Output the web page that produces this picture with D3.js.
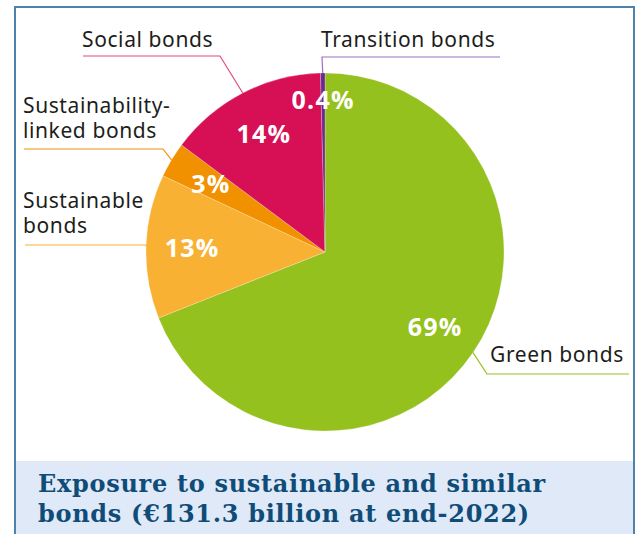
<!DOCTYPE html>
<html>
<head>
<meta charset="utf-8">
<script src="https://cdn.jsdelivr.net/npm/d3@7"></script>
<style>
  body { margin: 0; background: #fff; }
  svg { display: block; }
</style>
</head>
<body>
<svg id="chart" width="640" height="534"></svg>
<script>
// bond types, clockwise from 12 o'clock
const categories = ["Green bonds", "Sustainable bonds", "Sustainability-linked bonds", "Social bonds", "Transition bonds"];
const shares = [69.0, 13.0, 3.2, 14.4, 0.4];
const sliceColors = ["#95c11f", "#f8b133", "#f29100", "#d70f55", "#6a2a8f"];
const leaderColors = ["#95c11f", "#f8b133", "#f29100", "#e4487f", "#a46bc2"];
const titleLines = ["Exposure to sustainable and similar", "bonds (\u20ac131.3 billion at end-2022)"];

const svg = d3.select("svg#chart");
const cx = 325, cy = 252, radius = 179;

// frame + title band
svg.append("rect")
  .attr("x", 15).attr("y", 7)
  .attr("width", 619).attr("height", 540)
  .attr("fill", "none")
  .attr("stroke", "#4f82aa")
  .attr("stroke-width", 2);

svg.append("rect")
  .attr("x", 16).attr("y", 461)
  .attr("width", 617).attr("height", 80)
  .attr("fill", "#dfe9f7");

svg.selectAll("text.title")
  .data(titleLines)
  .enter()
  .append("text")
  .attr("class", "title")
  .attr("x", 38)
  .attr("y", (d, i) => 492 + i * 30)
  .attr("fill", "#0f4c78")
  .attr("font-family", "DejaVu Serif")
  .attr("font-weight", "bold")
  .attr("font-size", 24)
  .attr("letter-spacing", 0.7)
  .text((d) => d);

const pie = d3.pie().sort(null).value((d) => d)(shares);
const arc = d3.arc().innerRadius(0).outerRadius(radius);

const g = svg.append("g").attr("transform", `translate(${cx},${cy})`);

g.selectAll("path")
  .data(pie)
  .enter()
  .append("path")
  .attr("d", arc)
  .attr("fill", (d, i) => sliceColors[i])
  .attr("stroke", "#ffffff")
  .attr("stroke-width", 0.4)
  .attr("stroke-opacity", 0.6);

// percent labels
function fmt(v) {
  return v < 1 ? v.toFixed(1) + "%" : Math.round(v) + "%";
}
g.selectAll("text.pct")
  .data(pie)
  .enter()
  .append("text")
  .attr("class", "pct")
  .attr("transform", function (d) {
    const a = (d.startAngle + d.endAngle) / 2;
    const r = d.value < 1 ? 152 : 133;
    return `translate(${r * Math.sin(a)},${-r * Math.cos(a)})`;
  })
  .attr("text-anchor", "middle")
  .attr("dy", "0.36em")
  .attr("fill", "#fff")
  .attr("font-family", "Open Sans")
  .attr("font-weight", "bold")
  .attr("font-size", 25)
  .attr("letter-spacing", 1.2)
  .text((d) => fmt(d.value));

// callouts: text block, horizontal underline, bend to the slice edge
const callouts = [
  { lines: ["Green bonds"], tx: 490, ty: 362, x0: 629, bx: 487, by: 374 },
  { lines: ["Sustainable", "bonds"], tx: 23, ty: 208, x0: 25, bx: 146, by: 245 },
  { lines: ["Sustainability-", "linked bonds"], tx: 23, ty: 113, x0: 24, bx: 163, by: 149 },
  { lines: ["Social bonds"], tx: 82, ty: 47, x0: 83, bx: 220, by: 56 },
  { lines: ["Transition bonds"], tx: 321, ty: 47, x0: 500, bx: 322, by: 57 },
];

callouts.forEach(function (c, i) {
  const d = pie[i];
  const a = (d.startAngle + d.endAngle) / 2;
  const edge = [cx + radius * Math.sin(a), cy - radius * Math.cos(a)];
  svg.append("path")
    .attr("d", d3.line()([[c.x0, c.by], [c.bx, c.by], edge]))
    .attr("fill", "none")
    .attr("stroke", leaderColors[i])
    .attr("stroke-width", 1.2);
  const t = svg.append("text")
    .attr("x", c.tx)
    .attr("y", c.ty)
    .attr("fill", "#1d1d1b")
    .attr("font-family", "Noto Sans")
    .attr("font-size", 21)
    .attr("letter-spacing", 0.6);
  c.lines.forEach(function (l, j) {
    t.append("tspan")
      .attr("x", c.tx)
      .attr("dy", j === 0 ? 0 : 25)
      .text(l);
  });
});
</script>
</body>
</html>
